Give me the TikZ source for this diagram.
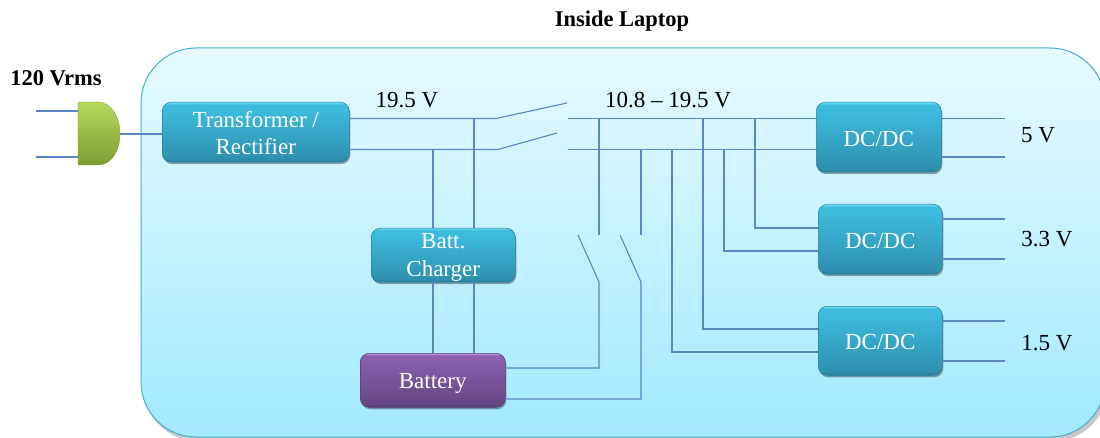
\documentclass[tikz,border=0pt]{standalone}
\usepackage{fontspec}
\setmainfont{Liberation Serif}
\usetikzlibrary{shadows}
\definecolor{wire}{HTML}{5B86C4}
\definecolor{tealE}{HTML}{2A7F9C}
\definecolor{tealA}{HTML}{2F90AF}
\definecolor{tealC}{HTML}{3DBBDD}
\definecolor{tealH}{HTML}{6FDDF5}
\definecolor{purE}{HTML}{553A70}
\definecolor{purA}{HTML}{664684}
\definecolor{purC}{HTML}{8A5FAE}
\definecolor{purH}{HTML}{CFA0F0}
\definecolor{grnE}{HTML}{7E9C34}
\definecolor{grnT}{HTML}{B5D85C}
\definecolor{encT}{HTML}{E6FAFF}
\definecolor{encB}{HTML}{A2E9FF}
\definecolor{encE}{HTML}{48AEC8}
\pgfdeclareverticalshading{tealshade}{100bp}{color(0bp)=(tealE);color(25bp)=(tealE);color(28bp)=(tealA);color(69bp)=(tealC);color(73bp)=(tealC);color(75bp)=(tealH);color(100bp)=(tealH)}
\pgfdeclareverticalshading{purshade}{100bp}{color(0bp)=(purE);color(25bp)=(purE);color(28bp)=(purA);color(69bp)=(purC);color(73bp)=(purC);color(75bp)=(purH);color(100bp)=(purH)}
\pgfdeclareverticalshading{encshade}{100bp}{color(0bp)=(encB);color(25bp)=(encB);color(75bp)=(encT);color(100bp)=(encT)}
\tikzset{
 wireline/.style={draw=wire,line width=1.1pt},
 blockbox/.style={rounded corners=9pt,inner sep=0pt,align=center,text=white,
   font=\fontsize{23}{27}\selectfont,anchor=north west,
   drop shadow={shadow xshift=1pt,shadow yshift=-2pt,opacity=.35,fill=black}},
 tealbox/.style={blockbox,draw=tealE,line width=.5pt,shading=tealshade},
 purbox/.style={blockbox,draw=purE,line width=.5pt,shading=purshade},
 lab/.style={font=\fontsize{23}{27}\selectfont,text=black,inner sep=0pt},
 blab/.style={lab,font=\fontsize{22.5}{27}\selectfont\bfseries},
}
\begin{document}
\begin{tikzpicture}[x=1pt,y=-1pt]
\useasboundingbox (0,0) rectangle (1100,438);
\fill[white] (0,0) rectangle (1100,438);
% laptop enclosure
\begin{scope}
\clip (0,0) rectangle (1100,438);
\fill[black,opacity=.22,rounded corners=55pt] (143,52) rectangle (1108,441);
\path[rounded corners=55pt,draw=encE,line width=1pt,shading=encshade] (141,48) rectangle (1105,437);
\end{scope}
% blocks
\node[tealbox,minimum width=187pt,minimum height=60pt] (tr) at (162,102) {\rule{0pt}{18pt}Transformer /\\Rectifier};
\node[tealbox,minimum width=144pt,minimum height=54pt] (ch) at (371,228) {\rule{0pt}{19pt}Batt.\\[1pt]Charger};
\node[purbox,minimum width=145pt,minimum height=54pt,text height=16pt,text depth=0pt] (ba) at (360,353) {Battery};
\node[tealbox,minimum width=125pt,minimum height=70pt,text height=18pt,text depth=0pt] (d1) at (816,102) {DC/DC};
\node[tealbox,minimum width=124pt,minimum height=70pt,text height=18pt,text depth=0pt] (d2) at (818,204) {DC/DC};
\node[tealbox,minimum width=124pt,minimum height=69pt,text height=18pt,text depth=0pt] (d3) at (818,306) {DC/DC};
% plug
\draw[draw=grnE,line width=.3pt,top color=grnT,bottom color=grnE] (78,102) -- (98,102) .. controls (112,102) and (120,118) .. (120,134) .. controls (120,150) and (112,165) .. (98,165) -- (78,165) -- cycle;
\coordinate (plug) at (120,134);
\coordinate (pa) at (78,111); \coordinate (pb) at (78,157);
\coordinate (pa0) at (36,111); \coordinate (pb0) at (36,157);
\draw[wireline] (pa0) -- (pa); \draw[wireline] (pb0) -- (pb);
\draw[wireline] (plug) -- (162,134);
% rails
\coordinate (s1a) at (496,118.5); \coordinate (s1b) at (567,103);
\coordinate (s2a) at (498,149.5); \coordinate (s2b) at (557,133);
\coordinate (r1) at (568,118.5); \coordinate (r2) at (568,149.5);
\draw[wireline] (349,118.5) -- (s1a) -- (s1b);
\draw[wireline] (349,149.5) -- (s2a) -- (s2b);
\draw[wireline] (r1) -- (816,118.5);
\draw[wireline] (r2) -- (816,149.5);
% charger and battery
\draw[wireline] (433,149.5) -- (433,228); \draw[wireline] (474,118.5) -- (474,228);
\draw[wireline] (433,282) -- (433,353); \draw[wireline] (474,282) -- (474,353);
% battery switches
\coordinate (v1) at (599,235); \coordinate (v2) at (641,235);
\draw[wireline] (599,118.5) -- (v1); \draw[wireline] (641,149.5) -- (v2);
\draw[wireline] (578,235) -- (599,282) -- (599,368) -- (505,368);
\draw[wireline] (620,235) -- (641,282) -- (641,399) -- (505,399);
% DC feeds
\draw[wireline] (672,149.5) -- (672,352) -- (818,352);
\draw[wireline] (703,118.5) -- (703,329) -- (818,329);
\draw[wireline] (724,149.5) -- (724,251) -- (818,251);
\draw[wireline] (755,118.5) -- (755,228) -- (818,228);
% outputs
\foreach \a/\y in {941/118.5,941/157,942/219,942/259,942/321,942/361}{\draw[wireline] (\a,\y) -- (1005,\y);}
% labels
\node[blab] (t0) at (622,21) {Inside Laptop};
\node[blab] (t1) at (56,78) {120 Vrms};
\node[lab] (t2) at (407,100) {19.5 V};
\node[lab] (t3) at (668,100) {10.8 – 19.5 V};
\node[lab] (t4) at (1038,135) {5 V};
\node[lab] (t5) at (1047,239) {3.3 V};
\node[lab] (t6) at (1047,343) {1.5 V};
\end{tikzpicture}
\end{document}
